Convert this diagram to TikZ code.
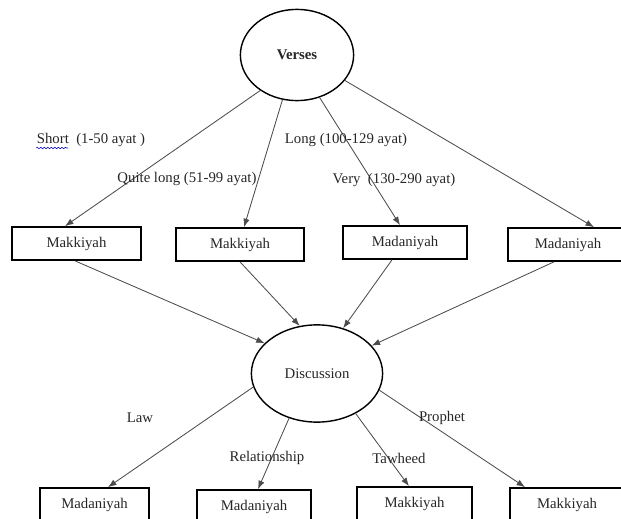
\documentclass[tikz,border=0pt]{standalone}
\usepackage{fontspec}
\setmainfont{Liberation Serif}
\usetikzlibrary{arrows.meta,calc,shapes,decorations.pathmorphing}

\begin{document}
\begin{tikzpicture}[x=0.025cm, y=-0.025cm,
  font=\fontsize{10.5}{12}\selectfont,
  box/.style={draw, line width=1.2pt, minimum height=0.825cm, inner sep=0pt, text=black!85},
  oval/.style={draw, ellipse, line width=1pt, inner sep=0pt, text=black!85},
  arr/.style={-{Latex[length=6pt,width=4.5pt]}, draw=black!70, line width=0.6pt},
  lbl/.style={inner sep=1pt, text=black!85}]

  \useasboundingbox (0,0) rectangle (621,519);

  % Verses
  \node[oval, minimum width=2.83cm, minimum height=2.28cm] (verses) at (297,55) {\bfseries Verses};

  % Top row
  \node[box, minimum width=3.225cm] (mak1) at (76.5,243.5) {Makkiyah};
  \node[box, minimum width=3.2cm] (mak2) at (240,244.5) {Makkiyah};
  \node[box, minimum width=3.1cm] (mad1) at (405,242.5) {Madaniyah};
  \node[box, minimum width=3.0cm] (mad2) at (568,244.5) {Madaniyah};

  % Discussion
  \node[oval, minimum width=3.28cm, minimum height=2.43cm] (disc) at (317,373.5) {Discussion};

  % Bottom row
  \node[box, minimum width=2.725cm] (mad3) at (94.5,504.5) {Madaniyah};
  \node[box, minimum width=2.85cm] (mad4) at (254,506.5) {Madaniyah};
  \node[box, minimum width=2.875cm] (mak3) at (414.5,503.5) {Makkiyah};
  \node[box, minimum width=2.85cm] (mak4) at (567,504.5) {Makkiyah};

  % Verses -> top row
  \draw[arr] (verses.224) -- ($(mak1.north)+(-11.5,0)$);
  \draw[arr] (verses.252) -- ($(mak2.north)+(4,0)$);
  \draw[arr] (verses.298) -- ($(mad1.north)+(-5,0)$);
  \draw[arr] (verses.332) -- ($(mad2.north)+(26,0)$);

  % top row -> Discussion
  \draw[arr] ($(mak1.south)+(-1.5,0)$) -- (disc.150);
  \draw[arr] (mak2.south) -- (disc.110);
  \draw[arr] ($(mad1.south)+(-13,0)$) -- (disc.60);
  \draw[arr] ($(mad2.south)+(-14,0)$) -- (disc.27);

  % Discussion -> bottom row
  \draw[arr] (disc.192) -- ($(mad3.north)+(13.5,0)$);
  \draw[arr] (disc.238) -- ($(mad4.north)+(4,0)$);
  \draw[arr] (disc.314) -- ($(mak3.north)+(-5.5,0)$);
  \draw[arr] (disc.345) -- ($(mak4.north)+(-42,0)$);

  % Labels
  \node[lbl] (short) at (91,140) {Short\ \ (1-50 ayat )};
  \node[lbl] (quitelong) at (187,179) {Quite long (51-99 ayat)};
  \node[lbl] (long) at (346,140) {Long (100-129 ayat)};
  \node[lbl] (verylong) at (394,180) {Very\ \ (130-290 ayat)};
  \node[lbl] (law) at (140,418) {Law};
  \node[lbl] (relation) at (267,458) {Relationship};
  \node[lbl] (tawheed) at (399,458) {Tawheed};
  \node[lbl] (prophet) at (442,418) {Prophet};

  % spell-check squiggle
  \draw[blue!75!black, line width=0.4pt, decorate,
    decoration={snake, amplitude=0.5pt, segment length=2.5pt}]
    ($(short.west)+(1,8)$) -- ++(32,0);
\end{tikzpicture}
\end{document}
